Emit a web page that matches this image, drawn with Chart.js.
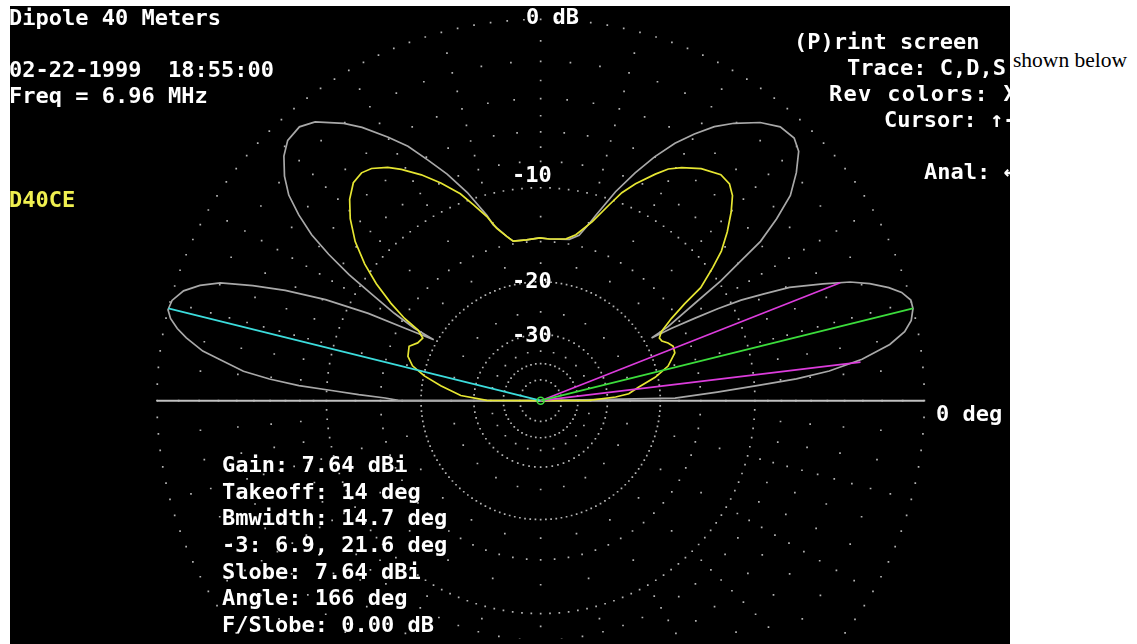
<!DOCTYPE html>
<html lang="en">
<head>
<meta charset="UTF-8">
<title>Dipole 40 Meters</title>
<script src="https://cdn.jsdelivr.net/npm/chart.js"></script>
<style>
  html, body { margin: 0; padding: 0; background: #fff; }
  .screen {
    position: absolute; left: 10px; top: 6px;
    width: 1000px; height: 638px;
    background: #000; overflow: hidden;
  }
  #pattern { position: absolute; left: 0; top: 0; }
  .t {
    position: absolute;
    font-family: 'DejaVu Sans Mono', monospace;
    font-weight: bold; font-size: 22px; line-height: 26px;
    color: #fff; white-space: pre;
  }
  .yel { color: #f0f050; }
  .stats { line-height: 26.67px; }
  .note {
    position: absolute; left: 1013px; top: 50px;
    font-family: 'Liberation Serif', serif; font-size: 21.5px; line-height: 21px;
    color: #000; white-space: pre;
  }
</style>
</head>
<body>
<div class="screen">
  <canvas id="pattern" width="1000" height="638"></canvas>

  <div class="t" style="left:-1px; top:-1px">Dipole 40 Meters</div>
  <div class="t" style="left:-1px; top:51px">02-22-1999  18:55:00</div>
  <div class="t" style="left:-1px; top:77px">Freq = 6.96 MHz</div>
  <div class="t yel" style="left:-1px; top:181px">D40CE</div>

  <div class="t" style="left:784px; top:23px">(P)rint screen</div>
  <div class="t" style="left:837px; top:49px">Trace: C,D,S,</div>
  <div class="t" style="left:819px; top:75px; letter-spacing:1.3px">Rev colors: X</div>
  <div class="t" style="left:874px; top:101px">Cursor: ↑-</div>
  <div class="t" style="left:914px; top:153px">Anal: ←</div>

  <div class="t" style="left:516px; top:-2px">0 dB</div>
  <div class="t" style="left:502px; top:156px">-10</div>
  <div class="t" style="left:502px; top:262px">-20</div>
  <div class="t" style="left:502px; top:316px">-30</div>
  <div class="t" style="left:926px; top:395px">0 deg</div>

  <div class="t stats" style="left:212px; top:446px">Gain: 7.64 dBi
Takeoff: 14 deg
Bmwidth: 14.7 deg
-3: 6.9, 21.6 deg
Slobe: 7.64 dBi
Angle: 166 deg
F/Slobe: 0.00 dB</div>
</div>
<div class="note">shown below</div>

<script>
  // grid rings (dB) and the angular spacing of their dots (deg)
  const ringDb   = [0, -1, -2, -3, -4, -5, -6, -7, -8, -9, -10, -12.5, -15, -17.5, -20, -25, -30, -35, -40, -50];
  const ringStep = [2.5, 15, 5, 15, 5, 15, 5, 15, 5, 15, 2.5, 15, 5, 15, 2.5, 15, 5, 15, 7.5, 15];

  // elevation angle (deg, measured from the right horizon) and relative gain (dB)
  const grayAngle = [0, 1.1, 2.8, 4.0, 4.9, 5.9, 7.4, 9.2, 10.8, 12.3, 14.0, 15.3, 16.8, 18.1, 19.7, 21.1, 22.6, 24.6,
    25.7, 26.8, 27.6, 28.3, 29.1, 29.6, 30.3, 32.4, 33.8, 35.1, 36.1, 37.8, 39.6, 41.9, 44.2, 46.2, 49.0, 51.9, 55.3,
    57.8, 60.2, 62.6, 65.1, 67.6, 70.4, 73.6, 74.8, 77.0, 80.0, 86.9, 90.3, 95.0, 99.7, 101.6, 105.0, 106.1, 109.3,
    112.3, 115.0, 117.4, 119.9, 123.0, 125.2, 128.8, 131.2, 134.0, 136.2, 138.6, 140.6, 142.3, 143.9, 145.2, 146.5,
    147.6, 149.0, 150.0, 150.2, 151.8, 153.0, 154.7, 156.5, 158.1, 159.7, 161.2, 162.8, 164.7, 166.2, 167.4, 168.7,
    169.9, 171.6, 172.6, 174.3, 175.4, 176.4, 177.2, 178.1, 179.0, 179.9, 180];
  const grayDb = [-99, -18.0, -13.3, -9.8, -6.9, -4.8, -2.9, -1.4, -0.6, -0.2, 0, 0, -0.3, -0.8, -1.6, -2.5, -3.9, -5.8,
    -7.5, -9.2, -11.2, -13.5, -16.2, -18.9, -16.4, -12.8, -9.8, -7.7, -5.9, -4.3, -2.9, -1.9, -1.1, -0.8, -0.85, -1.3, -2.1,
    -2.8, -3.7, -4.7, -6.0, -7.5, -9.3, -11.7, -12.6, -13.9, -14.5, -14.7, -14.6, -14.75, -14.7, -14.1, -12.7, -11.7, -9.4,
    -7.6, -6.2, -4.9, -3.9, -2.7, -2.0, -1.1, -0.8, -0.9, -1.3, -2.0, -2.8, -3.9, -5.2, -6.8, -8.8,
    -11.2, -13.9, -16.6, -19.5, -15.6, -11.75, -8.2, -5.5, -3.65, -2.0, -1.1, -0.45, -0.07, 0, -0.2, -0.6,
    -1.1, -2.0, -2.9, -4.3, -5.9, -7.9, -10.4, -12.8, -15.5, -17.0, -99];

  const yellowAngle = [0, 0.3, 2.8, 4.5, 7.9, 11.6, 15.3, 19.7, 22.4, 24.5, 26.3, 28.0, 29.9, 32.3, 34.1, 35.4, 37.9,
    39.8, 42.3, 44.9, 47.1, 49.1, 51.6, 55.5, 59.0, 61.3, 63.3, 66.5, 68.8, 70.9, 74.0, 78.1, 81.1, 86.9, 90.3, 95.0,
    99.7, 101.6, 104.2, 106.2, 108.8, 111.1, 114.5, 117.7, 120.9, 123.1, 125.9, 128.0, 130.5, 133.3, 136.1, 139.2,
    142.0, 144.4, 146.8, 148.7, 149.9, 151.9, 154.7, 157.4, 161.4, 164.7, 167.9, 171.4, 176.3, 179.7, 180];
  const yellowDb = [-99, -35.5, -28.0, -25.2, -23.3, -20.4, -18.3, -17.0, -16.9, -17.3, -17.9, -18.0, -17.4, -15.6, -13.6, -11.5, -9.7,
    -8.4, -7.2, -6.1, -5.3, -4.9, -4.8, -5.2, -5.8, -6.3, -7.0, -8.2, -9.2, -10.5, -12.3, -13.9, -14.5, -14.7, -14.6, -14.75,
    -14.7, -14.1, -13.1, -11.8, -10.5, -9.3, -8.0, -6.9, -5.95, -5.4, -4.9, -4.75, -4.9, -5.5, -6.4, -7.7,
    -9.3, -11.0, -13.1, -15.1, -17.1, -18.1, -17.8, -17.0, -17.3, -18.2, -20.1, -22.9, -26.9, -33.7, -99];

  // cursor readouts
  const takeoffDeg = 14,  takeoffDb = 0;
  const halfPowerDeg = [6.9, 21.6], halfPowerDb = -3;
  const cursorDeg = 166, cursorDb = 0;

  // ARRL log scale: outer ring = 0 dB, radius shrinks by 0.89 for every 2 dB
  const radius = db => Math.pow(0.89, -db / 2);
  const polar = (deg, db) => {
    const r = radius(db), a = deg * Math.PI / 180;
    return { x: r * Math.cos(a), y: r * Math.sin(a) };
  };

  const gridDots = [];
  ringDb.forEach((db, i) => {
    for (let a = 0; a < 360; a += ringStep[i]) gridDots.push(polar(a, db));
  });

  const trace = (angles, dbs) => angles.map((a, i) => polar(a, dbs[i]));
  const ray = (deg, db) => [{ x: 0, y: 0 }, polar(deg, db)];

  const line = (data, color, width, order) => ({
    data, order, showLine: true, borderColor: color, borderWidth: width,
    pointRadius: 0, fill: false, tension: 0
  });

  new Chart(document.getElementById('pattern'), {
    type: 'scatter',
    data: {
      datasets: [
        { data: [{ x: 0, y: 0 }], order: 0, pointStyle: 'circle', pointRadius: 3.5,
          borderColor: '#3cdc3c', borderWidth: 1.5, backgroundColor: 'rgba(0,0,0,0)' },
        line(ray(takeoffDeg, takeoffDb), '#3cdc3c', 1.7, 1),
        line(ray(halfPowerDeg[0], halfPowerDb), '#dc3cdc', 1.7, 1),
        line(ray(halfPowerDeg[1], halfPowerDb), '#dc3cdc', 1.7, 1),
        line(ray(cursorDeg, cursorDb), '#3cdcdc', 1.7, 1),
        line(trace(yellowAngle, yellowDb), '#e6e632', 1.7, 2),
        line(trace(grayAngle, grayDb), '#a8a8a8', 1.7, 3),
        line([{ x: -1, y: 0 }, { x: 1, y: 0 }], '#c0c0c0', 2, 4),
        { data: gridDots, order: 5, pointStyle: 'rect', pointRadius: 1.2,
          backgroundColor: '#b4b4b4', borderWidth: 0 }
      ]
    },
    options: {
      responsive: false,
      animation: false,
      events: [],
      layout: { padding: 0 },
      plugins: { legend: { display: false }, tooltip: { enabled: false } },
      scales: {
        x: { type: 'linear', display: false, min: -531 / 388, max: 469 / 388 },
        y: { type: 'linear', display: false, min: -242 / 388, max: 396 / 388 }
      }
    }
  });
</script>
</body>
</html>
